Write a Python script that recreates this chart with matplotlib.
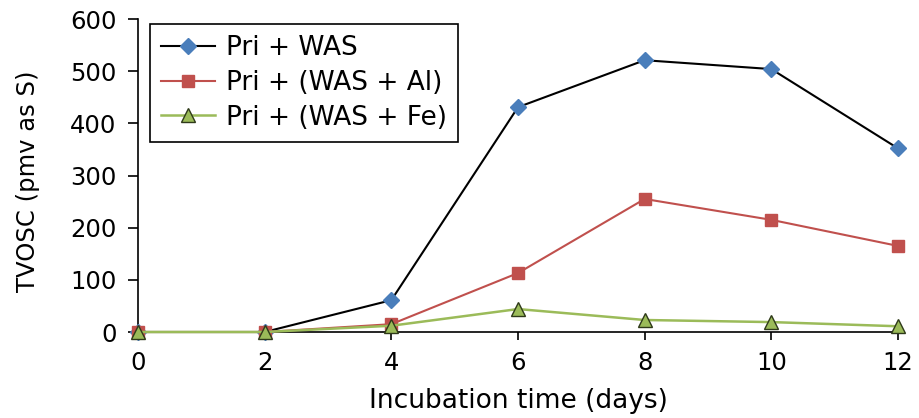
import matplotlib
matplotlib.use("Agg")
import matplotlib.pyplot as plt

plt.rcParams['font.family'] = ['DejaVu Sans']

days = [0, 2, 4, 6, 8, 10, 12]
was = [0, 0, 61, 431, 521, 504, 352]
was_al = [0, 0, 15, 113, 255, 215, 165]
was_fe = [0, 0, 12, 44, 23, 19, 11]
labels = ["Pri + WAS", "Pri + (WAS + Al)", "Pri + (WAS + Fe)"]

W, H = 919, 418
fig = plt.figure(figsize=(W / 100, H / 100), dpi=100)
left, right, top, bottom = 138, 898, 19, 332
ax = fig.add_axes([left / W, 1 - bottom / H, (right - left) / W, (bottom - top) / H])

ax.plot(days, was, color='black', lw=1.5, marker='D', ms=8, mfc='#4A7EBB', mec='#4A7EBB',
        label=labels[0], clip_on=False, zorder=3)
ax.plot(days, was_al, color='#C0504D', lw=1.5, marker='s', ms=9, mfc='#C0504D', mec='#C0504D',
        label=labels[1], clip_on=False, zorder=4)
ax.plot(days, was_fe, color='#9BBB59', lw=1.8, marker='^', ms=10, mfc='#9BBB59', mec='#2f3a1a', mew=1.0,
        label=labels[2], clip_on=False, zorder=5)

ax.set_xlim(0, 12)
ax.set_ylim(0, 600)
ax.set_xticks(days)
ax.set_yticks(range(0, 601, 100))
ax.spines['top'].set_visible(False)
ax.spines['right'].set_visible(False)
for s in ('left', 'bottom'):
    ax.spines[s].set_linewidth(1.2)
ax.tick_params(axis='y', direction='out', length=7, width=1.2, labelsize=17.5, pad=8.4)
ax.tick_params(axis='x', direction='out', length=6, width=1.2, labelsize=17.5, pad=8.0)
ax.set_xlabel("Incubation time (days)", fontsize=19)
ax.xaxis.set_label_coords(0.5, -0.18)
ax.set_ylabel("TVOSC (pmv as S)", fontsize=17.5)
ax.yaxis.set_label_coords(-0.129, 0.482)

leg = ax.legend(loc='upper left', bbox_to_anchor=(12 / (right - left), 1 - 5 / (bottom - top)),
                borderaxespad=0, fontsize=19, frameon=True, fancybox=False,
                edgecolor='black', handlelength=2.05, handletextpad=0.4, borderpad=0.42,
                labelspacing=0.33, framealpha=1)
leg.get_frame().set_linewidth(1.2)

fig.savefig("out.png", dpi=100)
